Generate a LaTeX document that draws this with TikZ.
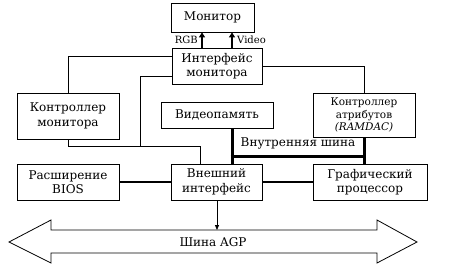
\documentclass[tikz,border=0pt]{standalone}
\usepackage{fontspec}
\setmainfont{DejaVu Serif}
\usetikzlibrary{arrows.meta}
\begin{document}
\begin{tikzpicture}[x=1pt,y=-1pt,
  box/.style={draw,line width=0.8pt,rectangle,align=center,inner sep=0pt,font=\fontsize{12}{14.5}\selectfont},
  thin/.style={line width=0.8pt},
  bus/.style={line width=3pt},
  up/.style={line width=2pt,-{Triangle[length=5pt,width=6pt]}},
  lbl/.style={inner sep=0pt,font=\fontsize{10}{11}\selectfont}]
\useasboundingbox (0,0) rectangle (454,278);
\node[box,minimum width=83pt,minimum height=29pt] (mon) at (212.5,17.5) {Монитор};
\node[box,minimum width=90pt,minimum height=36pt] (imon) at (217,66) {Интерфейс\\монитора};
\node[box,minimum width=102pt,minimum height=46pt] (kmon) at (68,116) {Контроллер\\монитора};
\node[box,minimum width=112pt,minimum height=26pt] (vmem) at (217,115) {Видеопамять};
\node[box,minimum width=102pt,minimum height=44pt,font=\fontsize{10.5}{12.5}\selectfont] (katr) at (364,115) {Контроллер\\атрибутов\\\textit{(RAMDAC)}};
\node[box,minimum width=102pt,minimum height=36pt] (bios) at (68,182) {Расширение\\BIOS};
\node[box,minimum width=91pt,minimum height=36pt] (ext) at (216.5,182) {Внешний\\интерфейс};
\node[box,minimum width=114pt,minimum height=36pt] (gp) at (370,182) {Графический\\процессор};
% arrows to monitor
\draw[up] ([xshift=-15pt]imon.north) -- ([xshift=-15pt]imon.north |- mon.south);
\draw[up] ([xshift=15pt]imon.north) -- ([xshift=15pt]imon.north |- mon.south);
\node[lbl,anchor=east] (rgb) at (198,40) {RGB};
\node[lbl,anchor=west] (vid) at (237,40) {Video};
% thin connections
\coordinate (jt) at (140,146);
\coordinate (jc) at (200,146);
\draw[thin] ([yshift=10pt]imon.west) -| (kmon.north);
\draw[thin] ([yshift=-10pt]imon.west) -| (jt);
\draw[thin] (kmon.south) |- (jc) -- (jc |- ext.north);
\draw[thin] (imon.east) -| (katr.north);
% internal bus
\coordinate (b1) at (232,156);
\coordinate (b2) at (364,156);
\draw[bus] (b1 |- vmem.south) -- (b1 |- ext.north);
\draw[bus] (katr.south) -- (katr.south |- gp.north);
\draw[bus] ([xshift=-1.5pt]b1) -- ([xshift=1.5pt]b2);
\node[lbl,font=\fontsize{12}{13}\selectfont] (ib) at (298,143) {Внутренняя шина};
\draw[bus,line width=2.5pt] (bios.east) -- (ext.west);
\draw[bus,line width=2.5pt] (ext.east) -- (gp.west);
% AGP bus
\draw[thin] (9,242) -- (51,220) -- (51,230) -- (377,230) -- (377,220) -- (417,242) -- (377,263) -- (377,253) -- (51,253) -- (51,263) -- cycle;
\coordinate (agptop) at (217,230);
\draw[thin,-{Triangle[length=5pt,width=4pt]}] (ext.south -| agptop) -- (agptop);
\node[lbl,font=\fontsize{12}{13}\selectfont] (agp) at (213,242) {Шина AGP};
\end{tikzpicture}
\end{document}
